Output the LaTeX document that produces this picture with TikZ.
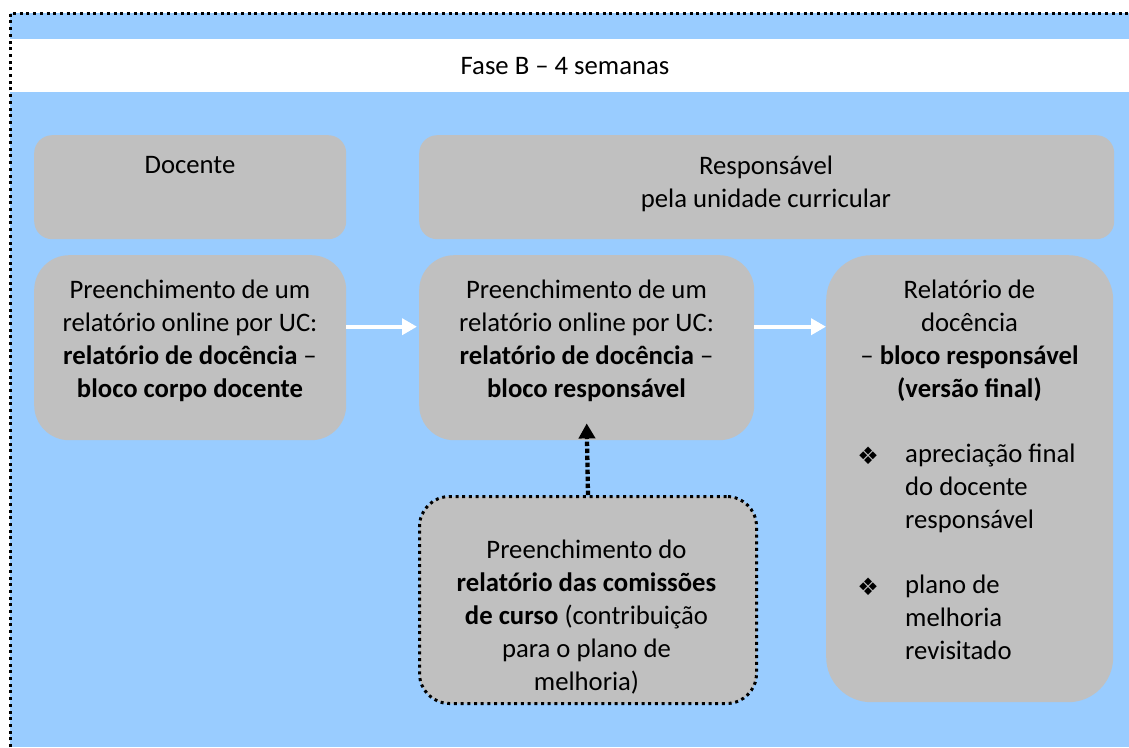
\documentclass[tikz,border=0pt]{standalone}
\usepackage{fontspec}
\setmainfont{Carlito}
\newfontfamily\symfont{DejaVu Sans}
\usetikzlibrary{arrows.meta}
\definecolor{bgblue}{HTML}{99CCFF}
\definecolor{boxgrey}{HTML}{C0C0C0}
\tikzset{
  greybox/.style={fill=boxgrey, draw=none, rounded corners=#1, inner sep=0pt, anchor=north west},
  txt/.style={font=\fontsize{26.7}{33}\selectfont, align=center, inner sep=0pt, text=black},
  bullet/.style={font=\symfont\fontsize{24}{28}\selectfont, inner sep=0pt},
  dotborder/.style={line width=3pt, dash pattern=on 3pt off 3.7pt},
  warrow/.style={white, line width=4pt, -{Triangle[length=15pt,width=16pt]}},
  darrow/.style={black, line width=4.3pt, dash pattern=on 4.3pt off 2.7pt, -{Triangle[length=15pt,width=16pt]}}
}
\begin{document}
\begin{tikzpicture}[x=1pt,y=-1pt]
\useasboundingbox (0,0) rectangle (1129,747);
\fill[bgblue] (10,13) rectangle (1129,747);
\fill[white] (10,39) rectangle (1129,92);
\draw[dotborder] (10,747) -- (10,13) -- (1129,13);
\node[txt] (fase) at (565,66) {Fase B – 4 semanas};

\node[greybox=18pt, minimum width=312pt, minimum height=104pt] (hdoc) at (34,135) {};
\node[greybox=18pt, minimum width=695pt, minimum height=104pt] (hresp) at (419,135) {};
\node[txt, anchor=north] (hdoct) at (190,156) {Docente};
\node[txt, anchor=north] (hrespt) at (766,156) {Responsável\\pela unidade curricular};

\node[greybox=35pt, minimum width=312pt, minimum height=185pt] (b1) at (34,255) {};
\node[greybox=35pt, minimum width=335pt, minimum height=185pt] (b2) at (419,255) {};
\node[greybox=45pt, minimum width=287pt, minimum height=447pt] (b3) at (826,255) {};
\node[greybox=30pt, minimum width=337pt, minimum height=207pt, draw=black, dotborder] (b4) at (418,495) {};

\node[txt, anchor=north] (b1t) at (190,280) {Preenchimento de um\\relatório online por UC:\\\textbf{relatório de docência} –\\\textbf{bloco corpo docente}};
\node[txt, anchor=north] (b2t) at (586.5,280) {Preenchimento de um\\relatório online por UC:\\\textbf{relatório de docência} –\\\textbf{bloco responsável}};
\node[txt, anchor=north] (b3t) at (969.5,280) {Relatório de\\docência\\– \textbf{bloco responsável}\\\textbf{(versão final)}};
\node[bullet] (bul1) at (868,456) {❖};
\node[txt, anchor=north west, align=left] (b3a) at (905,444) {apreciação final\\do docente\\responsável};
\node[bullet] (bul2) at (868,587) {❖};
\node[txt, anchor=north west, align=left] (b3b) at (905,575) {plano de\\melhoria\\revisitado};
\node[txt, anchor=north] (b4t) at (586.5,540) {Preenchimento do\\\textbf{relatório das comissões}\\\textbf{de curso} (contribuição\\para o plano de\\melhoria)};

\coordinate (a1) at ([yshift=21pt]b1.east);
\coordinate (a2) at ([yshift=21pt]b2.east);
\coordinate (a3) at ([yshift=17pt]b2.south);
\draw[warrow] (a1) -- ([xshift=-2pt]a1 -| b2.west);
\draw[warrow] (a2) -- (a2 -| b3.west);
\draw[darrow] (b4.north) -- (a3);
\end{tikzpicture}
\end{document}
